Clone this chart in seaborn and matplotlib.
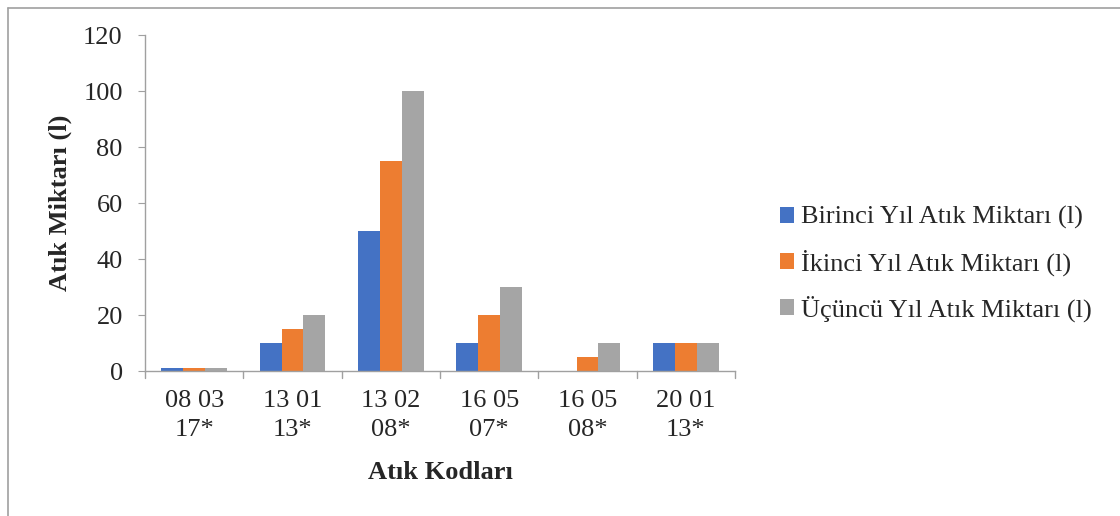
import matplotlib
matplotlib.use("Agg")
import matplotlib.pyplot as plt
from matplotlib.lines import Line2D
import seaborn as sns
import pandas as pd

categories = ["08 03\n17*", "13 01\n13*", "13 02\n08*", "16 05\n07*", "16 05\n08*", "20 01\n13*"]
series_names = ["Birinci Yıl Atık Miktarı (l)", "İkinci Yıl Atık Miktarı (l)", "Üçüncü Yıl Atık Miktarı (l)"]
birinci = [1, 10, 50, 10, 0, 10]
ikinci = [1, 15, 75, 20, 5, 10]
ucuncu = [1, 20, 100, 30, 10, 10]
colors = ["#4472C4", "#ED7D31", "#A5A5A5"]
yticks = [0, 20, 40, 60, 80, 100, 120]

rows = []
for name, vals in zip(series_names, [birinci, ikinci, ucuncu]):
    for c, v in zip(categories, vals):
        rows.append({"cat": c, "series": name, "val": v})
df = pd.DataFrame(rows)

sns.set_style("white")
plt.rcParams['font.family'] = ['Liberation Serif', 'DejaVu Serif']

FS = 19
fig = plt.figure(figsize=(11.2, 5.16), dpi=100)
ax = fig.add_axes([145/1120, 1-371/516, 590/1120, 336/516])
sns.barplot(data=df, x="cat", y="val", hue="series", palette=colors,
            width=0.667, saturation=1, ax=ax, legend=True, edgecolor="none")

ax.set_ylim(0, 120)
ax.set_xlim(-0.5, len(categories)-0.5)
ax.set_yticks(yticks)
ax.set_yticklabels([str(t) for t in yticks], fontsize=FS)
ax.set_xticks(range(len(categories)))
ax.set_xticklabels(categories, fontsize=FS, linespacing=1.4)
ax.tick_params(axis='x', length=0, pad=14)
ax.tick_params(axis='y', length=5, color="#A0A0A0", direction='out', left=True, pad=11)
# category boundary ticks
for k in range(len(categories)+1):
    ax.plot([k-0.5, k-0.5], [0, -0.022], transform=ax.get_xaxis_transform(),
            color="#A0A0A0", lw=1, clip_on=False)

for s in ["top", "right"]:
    ax.spines[s].set_visible(False)
for s in ["left", "bottom"]:
    ax.spines[s].set_color("#A0A0A0")
    ax.spines[s].set_linewidth(1)

ax.set_xlabel("Atık Kodları", fontsize=FS, fontweight="bold", labelpad=14)
ax.set_ylabel("Atık Miktarı (l)", fontsize=FS, fontweight="bold", labelpad=8)

leg = ax.legend(loc="center left", bbox_to_anchor=(756/1120, 1-264/516),
                bbox_transform=fig.transFigure, frameon=False, fontsize=FS,
                handlelength=0.55, handleheight=0.55, handletextpad=0.25, labelspacing=0.75)

fig.add_artist(Line2D([8/1120, 8/1120], [0, 1-8/516], color="#A0A0A0", lw=1.2, transform=fig.transFigure))
fig.add_artist(Line2D([8/1120, 1], [1-8/516, 1-8/516], color="#A0A0A0", lw=1.2, transform=fig.transFigure))

fig.savefig("out.png", dpi=100)
